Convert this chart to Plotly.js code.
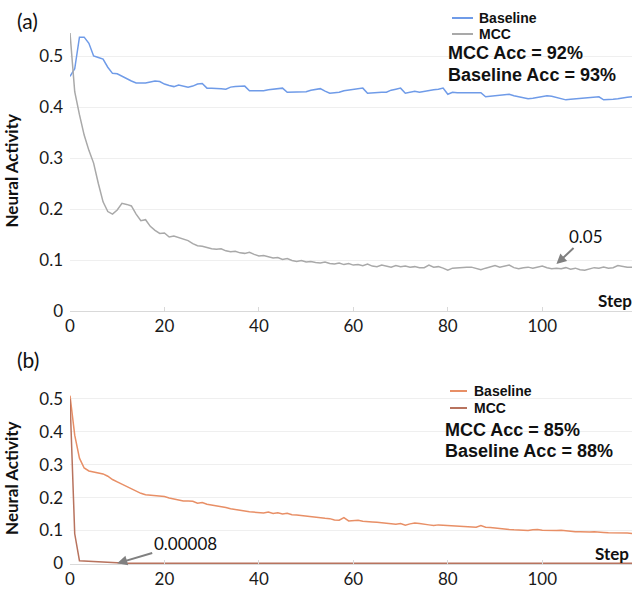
<!DOCTYPE html>
<html>
<head>
<meta charset="utf-8">
<script src="https://cdn.plot.ly/plotly-3.0.1.min.js"></script>
<style>html,body{margin:0;padding:0;background:#fff;}#chart{width:634px;height:590px;}</style>
</head>
<body>
<div id="chart"></div>
<script>
// ---------- data ----------
const steps = Array.from({length: 120}, (_, i) => i);

const baselineA = [
0.460,0.475,0.537,0.537,0.525,0.500,0.497,0.494,0.478,0.466,
0.465,0.460,0.456,0.451,0.447,0.447,0.447,0.449,0.451,0.450,
0.445,0.442,0.440,0.443,0.441,0.439,0.441,0.445,0.446,0.437,
0.437,0.437,0.436,0.435,0.439,0.440,0.441,0.441,0.432,0.432,
0.432,0.432,0.434,0.435,0.436,0.437,0.429,0.429,0.429,0.429,
0.430,0.433,0.434,0.436,0.431,0.427,0.428,0.429,0.432,0.433,
0.434,0.435,0.437,0.427,0.428,0.428,0.429,0.429,0.433,0.435,
0.437,0.427,0.429,0.431,0.429,0.431,0.433,0.434,0.435,0.437,
0.425,0.429,0.428,0.428,0.428,0.428,0.427,0.428,0.420,0.421,
0.422,0.422,0.423,0.425,0.422,0.420,0.418,0.416,0.417,0.419,
0.421,0.422,0.421,0.419,0.417,0.414,0.415,0.416,0.417,0.418,
0.419,0.420,0.420,0.414,0.414,0.415,0.416,0.418,0.419,0.420];

const mccA = [
0.545,0.430,0.385,0.345,0.315,0.290,0.250,0.214,0.195,0.190,
0.198,0.211,0.209,0.206,0.190,0.177,0.179,0.166,0.158,0.152,
0.153,0.145,0.147,0.144,0.141,0.138,0.132,0.128,0.127,0.124,
0.122,0.121,0.122,0.118,0.116,0.117,0.114,0.113,0.115,0.111,
0.108,0.109,0.107,0.104,0.105,0.101,0.103,0.099,0.097,0.099,
0.096,0.097,0.095,0.094,0.096,0.093,0.092,0.094,0.091,0.093,
0.090,0.091,0.089,0.092,0.088,0.087,0.090,0.088,0.086,0.089,
0.087,0.088,0.086,0.087,0.085,0.085,0.090,0.086,0.087,0.084,
0.080,0.084,0.085,0.085,0.086,0.086,0.083,0.081,0.084,0.087,
0.089,0.086,0.088,0.090,0.085,0.083,0.085,0.086,0.084,0.086,
0.088,0.085,0.083,0.084,0.083,0.085,0.082,0.084,0.081,0.080,
0.083,0.085,0.084,0.086,0.084,0.085,0.089,0.087,0.086,0.086];

const baselineB = [
0.510,0.390,0.320,0.290,0.281,0.278,0.276,0.272,0.265,0.255,
0.248,0.241,0.234,0.226,0.218,0.213,0.209,0.208,0.207,0.205,
0.203,0.199,0.196,0.192,0.190,0.190,0.189,0.183,0.185,0.180,
0.178,0.175,0.172,0.170,0.166,0.163,0.161,0.159,0.157,0.156,
0.155,0.153,0.156,0.152,0.154,0.150,0.152,0.148,0.147,0.145,
0.143,0.141,0.140,0.139,0.137,0.136,0.132,0.131,0.139,0.129,
0.130,0.131,0.128,0.128,0.126,0.125,0.124,0.123,0.122,0.119,
0.121,0.116,0.120,0.123,0.121,0.118,0.117,0.115,0.117,0.116,
0.115,0.114,0.113,0.112,0.111,0.111,0.110,0.115,0.110,0.109,
0.107,0.106,0.104,0.103,0.102,0.101,0.102,0.100,0.102,0.103,
0.101,0.100,0.101,0.100,0.101,0.099,0.097,0.096,0.096,0.095,
0.095,0.096,0.094,0.094,0.093,0.093,0.094,0.092,0.092,0.091];

const mccB = [
0.500,0.090,0.008,0.007,0.006,0.005,0.004,0.003,0.002,0.001,
0.0005,0.0003,0.0002,0.0001,0.00009,0.00008,0.00008,0.00008,0.00008,0.00008,
0.00008,0.00008,0.00008,0.00008,0.00008,0.00008,0.00008,0.00008,0.00008,0.00008,
0.00008,0.00008,0.00008,0.00008,0.00008,0.00008,0.00008,0.00008,0.00008,0.00008,
0.00008,0.00008,0.00008,0.00008,0.00008,0.00008,0.00008,0.00008,0.00008,0.00008,
0.00008,0.00008,0.00008,0.00008,0.00008,0.00008,0.00008,0.00008,0.00008,0.00008,
0.00008,0.00008,0.00008,0.00008,0.00008,0.00008,0.00008,0.00008,0.00008,0.00008,
0.00008,0.00008,0.00008,0.00008,0.00008,0.00008,0.00008,0.00008,0.00008,0.00008,
0.00008,0.00008,0.00008,0.00008,0.00008,0.00008,0.00008,0.00008,0.00008,0.00008,
0.00008,0.00008,0.00008,0.00008,0.00008,0.00008,0.00008,0.00008,0.00008,0.00008,
0.00008,0.00008,0.00008,0.00008,0.00008,0.00008,0.00008,0.00008,0.00008,0.00008,
0.00008,0.00008,0.00008,0.00008,0.00008,0.00008,0.00008,0.00008,0.00008,0.00008];

const seriesNames = ['Baseline', 'MCC'];
const accA = ['MCC Acc = 92%', 'Baseline Acc = 93%'];
const accB = ['MCC Acc = 85%', 'Baseline Acc = 88%'];
const panelLabels = ['(a)', '(b)'];
const arrowLabels = ['0.05', '0.00008'];
const xTitle = 'Step';
const yTitle = 'Neural Activity';

// ---------- styles ----------
const cBlue = '#6f9be8', cGray = '#a9a9a9', cOrange = '#e88f66', cBrown = '#b8735e';
const tickFont = {family: 'Lato, sans-serif', size: 17, color: '#1a1a1a'};
const boldArial = {family: 'Liberation Sans, Arial, sans-serif', size: 14, color: '#111', weight: 'bold'};
const accFont = {family: 'Liberation Sans, Arial, sans-serif', size: 18, color: '#111', weight: 'bold'};
const W = 634, H = 590;
const px = v => v / W, py = v => 1 - v / H;

const traces = [
  {x: steps, y: baselineA, name: seriesNames[0], type: 'scatter', mode: 'lines', line: {color: cBlue, width: 1.5}, xaxis: 'x', yaxis: 'y', showlegend: false},
  {x: steps, y: mccA, name: seriesNames[1], type: 'scatter', mode: 'lines', line: {color: cGray, width: 1.5}, xaxis: 'x', yaxis: 'y', showlegend: false},
  {x: steps, y: baselineB, name: seriesNames[0], type: 'scatter', mode: 'lines', line: {color: cOrange, width: 1.5}, xaxis: 'x2', yaxis: 'y2', showlegend: false},
  {x: steps, y: mccB, name: seriesNames[1], type: 'scatter', mode: 'lines', line: {color: cBrown, width: 1.5}, xaxis: 'x2', yaxis: 'y2', showlegend: false}
];

function xAx(anchor) {
  return {anchor: anchor, domain: [px(70), px(632)], range: [0, 119], dtick: 20, tick0: 0,
    showgrid: false, zeroline: false, showline: true, linecolor: '#d9d9d9', linewidth: 1,
    ticks: 'inside', ticklen: 4, tickcolor: '#d9d9d9', tickfont: tickFont};
}
function yAx(anchor, dom, range) {
  return {anchor: anchor, domain: dom, range: range, dtick: 0.1, tick0: 0,
    showgrid: true, gridcolor: '#efefef', gridwidth: 1, zeroline: false, showline: false,
    ticks: '', tickfont: tickFont, ticklabelstandoff: 6,
    title: {text: yTitle, standoff: 16, font: {family: 'Lato, sans-serif', size: 17, color: '#111', weight: 'bold'}}};
}

const shapes = [
  {type: 'line', xref: 'paper', yref: 'paper', x0: px(452), x1: px(473), y0: py(18), y1: py(18), line: {color: cBlue, width: 2}},
  {type: 'line', xref: 'paper', yref: 'paper', x0: px(452), x1: px(473), y0: py(34), y1: py(34), line: {color: cGray, width: 2}},
  {type: 'line', xref: 'paper', yref: 'paper', x0: px(450), x1: px(467), y0: py(391), y1: py(391), line: {color: cOrange, width: 2}},
  {type: 'line', xref: 'paper', yref: 'paper', x0: px(450), x1: px(467), y0: py(408), y1: py(408), line: {color: cBrown, width: 2}}
];

function pText(text, x, y, font, xanchor) {
  return {text: text, xref: 'paper', yref: 'paper', x: px(x), y: py(y), xanchor: xanchor || 'left', yanchor: 'middle', showarrow: false, font: font, borderpad: 0};
}

const annotations = [
  pText(panelLabels[0], 16, 20, {family: 'Lato, sans-serif', size: 21, color: '#111'}),
  pText(panelLabels[1], 16, 359, {family: 'Lato, sans-serif', size: 21, color: '#111'}),
  pText(seriesNames[0], 478, 18, boldArial),
  pText(seriesNames[1], 478, 34, boldArial),
  pText(accA[0], 447, 53, accFont),
  pText(accA[1], 447, 75, accFont),
  pText(seriesNames[0], 473, 391, boldArial),
  pText(seriesNames[1], 473, 408, boldArial),
  pText(accB[0], 444, 430, accFont),
  pText(accB[1], 444, 451, accFont),
  pText(xTitle, 633, 300, {family: 'Lato, sans-serif', size: 17, color: '#111', weight: 'bold'}, 'right'),
  pText(xTitle, 630, 553, {family: 'Lato, sans-serif', size: 17, color: '#111', weight: 'bold'}, 'right'),
  {text: arrowLabels[0], xref: 'x', yref: 'y', x: 103, y: 0.092, ax: 30, ay: -28, showarrow: true,
   arrowhead: 2, arrowsize: 1, arrowwidth: 2, arrowcolor: '#808080', font: {family: 'Lato, sans-serif', size: 17, color: '#111'}},
  {text: arrowLabels[1], xref: 'x2', yref: 'y2', x: 10, y: 0.00008, ax: 68, ay: -20, showarrow: true,
   arrowhead: 2, arrowsize: 1, arrowwidth: 2, arrowcolor: '#808080', font: {family: 'Lato, sans-serif', size: 17, color: '#111'}}
];

const layout = {
  width: W, height: H,
  margin: {l: 0, r: 0, t: 0, b: 0, pad: 0},
  paper_bgcolor: '#ffffff', plot_bgcolor: '#ffffff',
  showlegend: false,
  xaxis: xAx('y'),
  yaxis: yAx('x', [py(311), py(30.5)], [0, 0.55]),
  xaxis2: xAx('y2'),
  yaxis2: yAx('x2', [py(564), py(392.4)], [-0.002, 0.52]),
  shapes: shapes,
  annotations: annotations
};

Plotly.newPlot('chart', traces, layout, {displayModeBar: false, staticPlot: true});
</script>
</body>
</html>
